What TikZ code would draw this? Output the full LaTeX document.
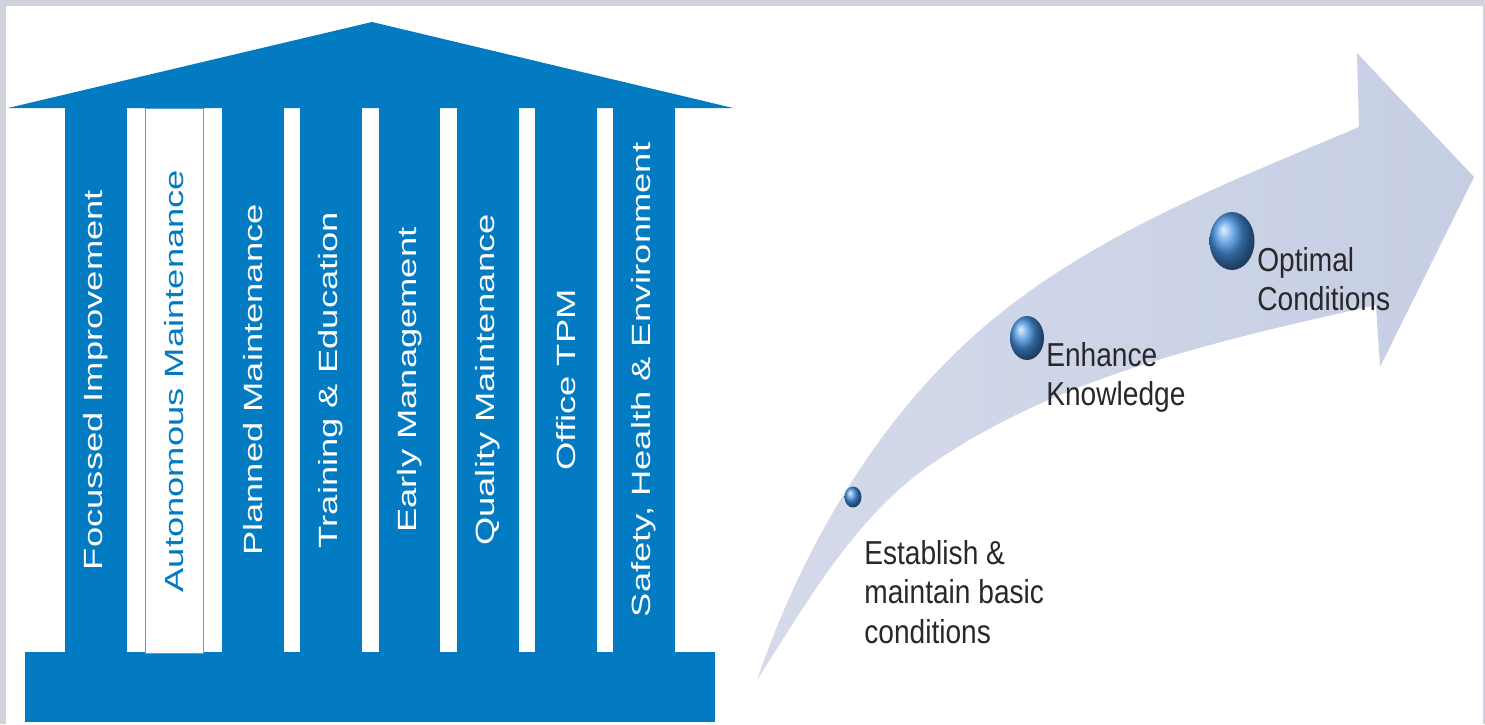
\documentclass[tikz,border=0pt]{standalone}
\usepackage{fontspec}
\setmainfont{Liberation Sans}
\usepackage{graphicx}
\usetikzlibrary{shapes.geometric,positioning}

\definecolor{tpmblue}{RGB}{2,123,194}
\definecolor{framegray}{RGB}{208,211,219}
\definecolor{arrowblue}{RGB}{198,206,228}
\definecolor{ballblue}{RGB}{70,145,225}
\definecolor{labelgray}{RGB}{40,40,40}

% one line of a pillar, stretched along its length
\newcommand{\pillartext}[1]{\scalebox{1.38}[1]{#1}}
% a stacked label beside the arrow
\newcommand{\steptext}[1]{\scalebox{1}[1.18]{\begin{tabular}{@{}l@{}}#1\end{tabular}}}

\tikzset{
  pillar/.style={rotate=90, fill=tpmblue, text=white, inner sep=0pt,
    minimum width=10.88cm, minimum height=1.24cm,
    font=\fontsize{15}{18}\selectfont},
  steplabel/.style={anchor=west, inner sep=0pt, text=labelgray,
    font=\fontsize{16}{19}\selectfont},
  stepball/.style={ellipse, inner sep=0pt, ball color=ballblue}
}

\begin{document}
\begin{tikzpicture}[x=0.02cm, y=-0.02cm]
    \useasboundingbox (0,0) rectangle (1485,724);

    % Frame
    \fill[framegray] (0,0) rectangle (1485,724);
    \fill[white] (6,6) rectangle (1483,724);

    % Left: the temple
    \fill[tpmblue] (8,108) -- (372,22) -- (733,108) -- cycle;
    \fill[tpmblue] (25,652) rectangle (715,722);

    \foreach \px/\name/\txt in {96/p1/{Focussed Improvement},
                                253/p3/{Planned Maintenance},
                                331/p4/{Training \& Education},
                                409.5/p5/{Early Management},
                                488/p6/{Quality Maintenance},
                                566/p7/{Office TPM},
                                644/p8/{Safety, Health \& Environment}}
        \node[pillar] (\name) at (\px,380) {\pillartext{\txt}};

    % the white pillar
    \node[pillar, fill=white, draw=tpmblue!70, line width=0.6pt, text=tpmblue,
          minimum width=10.92cm, minimum height=1.16cm]
          (p2) at (174.5,381) {\pillartext{Autonomous Maintenance}};

    % Right: the curved arrow
    \shade[left color=arrowblue!75, right color=arrowblue]
        (757,680) .. controls (802,549) and (875,423) .. (978,332)
        .. controls (1086,237) and (1227,183) .. (1359,127)
        -- (1357,53) -- (1474,177) -- (1380,367) -- (1376,305)
        .. controls (1222,340) and (1060,375) .. (930,465)
        .. controls (855,517) and (807,602) .. (757,680) -- cycle;

    % Steps along the arrow
    \node[stepball, minimum width=0.34cm, minimum height=0.42cm] (ball1) at (853,497) {};
    \node[stepball, minimum width=0.68cm, minimum height=0.88cm] (ball2) at (1027,338) {};
    \node[stepball, minimum width=0.90cm, minimum height=1.16cm] (ball3) at (1232,241) {};

    \node[steplabel] (establish) at (864,596) {\steptext{Establish \&\\maintain basic\\conditions}};
    \node[steplabel] (enhance) at (1046,378) {\steptext{Enhance\\Knowledge}};
    \node[steplabel] (optimal) at (1257,283) {\steptext{Optimal\\Conditions}};
\end{tikzpicture}
\end{document}
